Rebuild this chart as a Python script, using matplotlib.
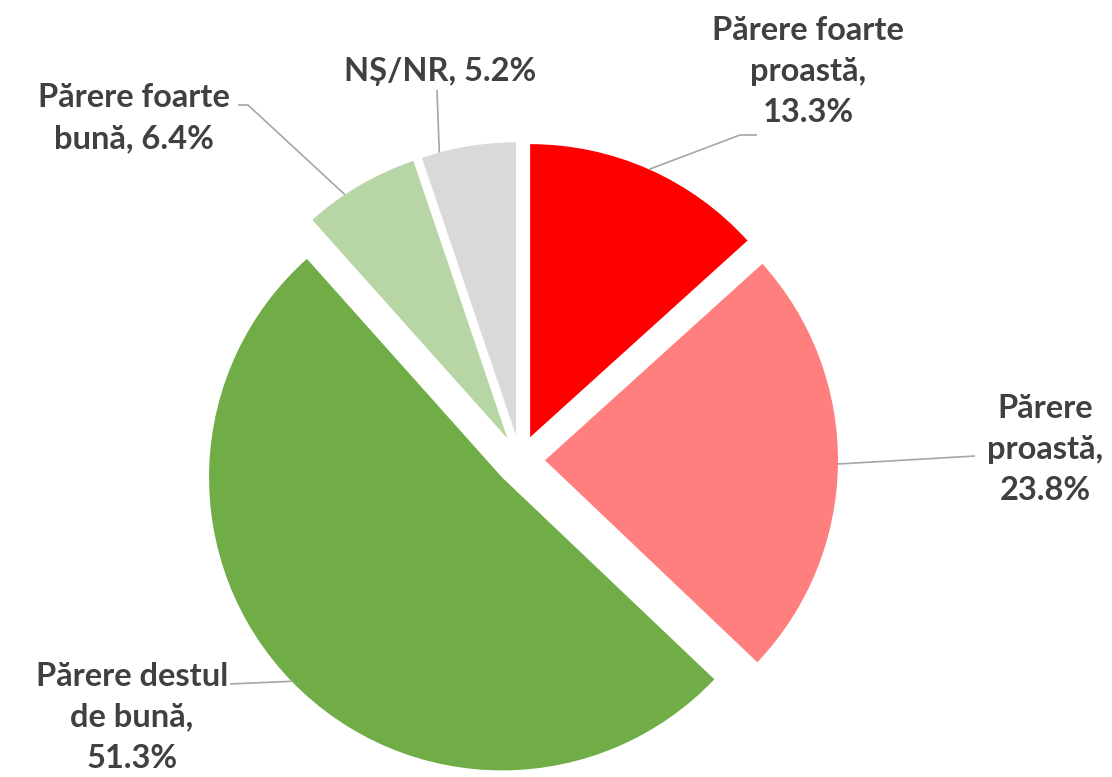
import numpy as np
import matplotlib.pyplot as plt

# data
categories = ['Părere foarte\nproastă', 'Părere\nproastă', 'Părere destul\nde bună',
              'Părere foarte\nbună', 'NȘ/NR']
values = [13.3, 23.8, 51.3, 6.4, 5.2]
separators = [',\n', ',\n', ',\n', ', ', ', ']
colors = ['#FF0000', '#FF7F7F', '#70AD47', '#B8D6A5', '#D9D9D9']

# layout (pixel coords of the 1112x777 picture)
W, H = 1112, 777
cx, cy, R = 520, 460, 293          # pie centre and radius
explode_px = 25
label_xy = [(808, 71), (1045, 450), (132, 717), (134, 118), (440, 72)]
elbows = [[(740, 135), (757, 135)], [(975, 456)], [(230, 684)],
          [(248, 105), (238, 105)], [(437, 90)]]
anchor_frac = [0.5, 0.5, 0.5, 0.35, 0.19]   # where the leader meets the arc


def to_data(px, py):
    return (px - cx) / R, (cy - py) / R


fig = plt.figure(figsize=(W / 100, H / 100), dpi=100)
ax = fig.add_axes([0, 0, 1, 1])

ex = explode_px / R
wedges, _ = ax.pie(values, colors=colors, startangle=90, counterclock=False,
                   radius=1, explode=[ex] * len(values),
                   wedgeprops=dict(linewidth=0))
# pie() resets the limits, so set them afterwards
ax.set_xlim(-cx / R, (W - cx) / R)
ax.set_ylim((cy - H) / R, cy / R)
ax.axis('off')

for w, name, sep, v, (lx, ly), elb, f in zip(wedges, categories, separators, values,
                                             label_xy, elbows, anchor_frac):
    # clockwise pie: theta2 is the start edge
    ang = np.deg2rad(w.theta2 - f * (w.theta2 - w.theta1))
    wx, wy = w.center
    sx, sy = wx + np.cos(ang), wy + np.sin(ang)
    pts = [(sx, sy)] + [to_data(*p) for p in elb]
    xs, ys = zip(*pts)
    ax.plot(xs, ys, color='#A6A6A6', lw=1.2, solid_capstyle='butt')
    tx, ty = to_data(lx, ly)
    ax.text(tx, ty, f'{name}{sep}{v}%', ha='center', va='center',
            fontsize=23.5, fontweight='bold', color='#404040',
            family=['Lato', 'DejaVu Sans'], linespacing=1.5)

fig.savefig('out.png', dpi=100)
